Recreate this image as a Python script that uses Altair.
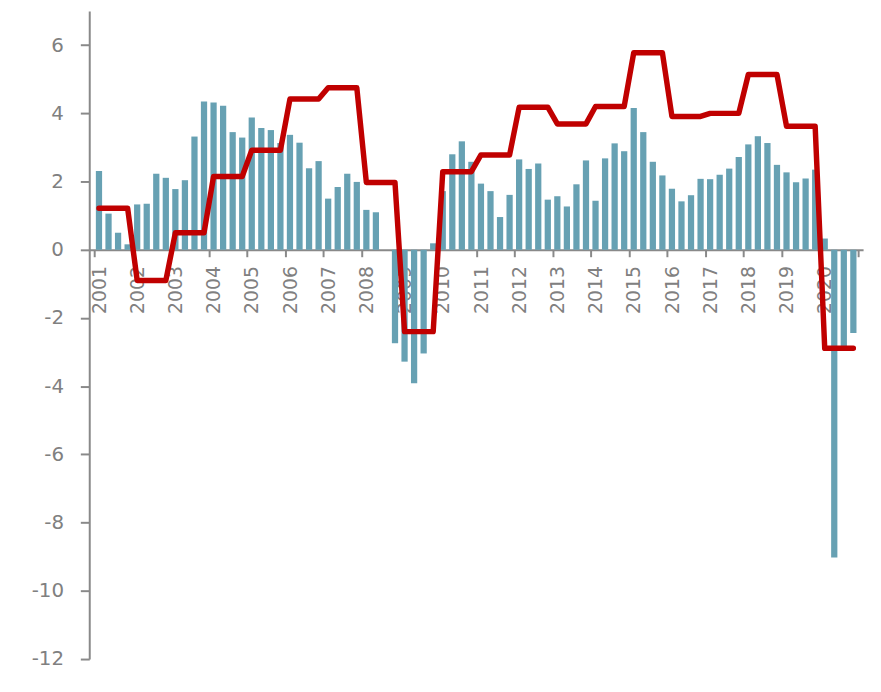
import altair as alt
import pandas as pd

years = list(range(2001, 2021))
quarters = [1, 2, 3, 4]

quarterly = [
    2.31, 1.06, 0.50, 0.16,
    1.33, 1.35, 2.23, 2.11,
    1.78, 2.04, 3.32, 4.35,
    4.32, 4.22, 3.45, 3.29,
    3.88, 3.57, 3.51, 3.13,
    3.37, 3.14, 2.39, 2.60,
    1.50, 1.84, 2.23, 1.99,
    1.17, 1.10, 0.00, -2.74,
    -3.28, -3.91, -3.04, 0.19,
    1.72, 2.80, 3.18, 2.58,
    1.94, 1.72, 0.96, 1.61,
    2.65, 2.37, 2.53, 1.47,
    1.57, 1.27, 1.92, 2.62,
    1.44, 2.68, 3.12, 2.89,
    4.16, 3.45, 2.58, 2.18,
    1.79, 1.42, 1.60, 2.08,
    2.07, 2.20, 2.38, 2.72,
    3.09, 3.33, 3.13, 2.49,
    2.27, 1.98, 2.09, 2.35,
    0.33, -9.02, -2.85, -2.44,
]

annual = [1.22, -0.90, 0.50, 2.15, 2.92, 4.42, 4.75, 1.97, -2.40, 2.29,
          2.78, 4.18, 3.69, 4.20, 5.78, 3.91, 4.00, 5.14, 3.62, -2.89]

y_ticks = [-12, -10, -8, -6, -4, -2, 0, 2, 4, 6]
x_ticks = list(range(2001, 2022))

rows = []
for i, y in enumerate(years):
    for j, q in enumerate(quarters):
        rows.append({"year": y, "q": q, "bar": quarterly[i * 4 + j], "annual": annual[i]})
df = pd.DataFrame(rows)

W, H = 781, 654
YMIN, YMAX = -12, 7
x_offset = -H * (0 - YMIN) / (YMAX - YMIN)

base = alt.Chart(df).transform_calculate(t="datum.year + (datum.q - 0.5) / 4")

xscale = alt.Scale(domain=[2001, 2021], nice=False, zero=False)
yscale = alt.Scale(domain=[YMIN, YMAX], nice=False)

xaxis = alt.Axis(
    values=x_ticks, labelAngle=270, offset=x_offset,
    labelExpr="datum.value == 2021 ? '' : '' + datum.value",
    labelAlign="right", labelBaseline="middle",
    labelOverlap=False, labelFlush=False,
    labelOffset=5, labelPadding=9, tickSize=7, tickWidth=2,
    domainWidth=2, domainColor="#898989", tickColor="#898989",
    labelColor="#808080", labelFont="DejaVu Sans", labelFontSize=19,
    grid=False, title=None,
)
yaxis = alt.Axis(
    values=y_ticks, labelExpr="'' + datum.value", tickSize=9, tickWidth=2, domainWidth=2,
    domainColor="#898989", tickColor="#898989", labelColor="#808080",
    labelFont="DejaVu Sans", labelFontSize=20, labelPadding=17,
    labelOverlap=False, labelFlush=False,
    minExtent=82, maxExtent=82, grid=False, title=None,
)

bars = base.mark_bar(color="#67a1b3", size=6.3).encode(
    x=alt.X("t:Q", scale=xscale, axis=xaxis),
    y=alt.Y("bar:Q", scale=yscale, axis=yaxis),
)

line = base.mark_line(color="#c00000", strokeWidth=5.5, strokeJoin="round", strokeCap="round").encode(
    x=alt.X("t:Q", scale=xscale, axis=xaxis),
    y=alt.Y("annual:Q", scale=yscale, axis=yaxis),
)

chart = alt.layer(bars, line).properties(width=W, height=H, padding=0).configure_view(stroke=None)

chart.save("out.html", embed_options={"renderer": "svg", "actions": False})
